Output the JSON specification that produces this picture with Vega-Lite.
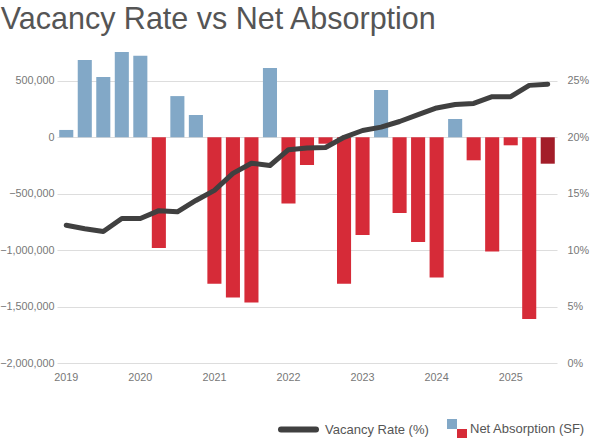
{
  "$schema": "https://vega.github.io/schema/vega-lite/v6.json",
  "width": 500,
  "height": 316,
  "autosize": {"type": "none"},
  "padding": {"left": 57, "top": 47, "right": 38, "bottom": 75},
  "title": {
    "text": "Vacancy Rate vs Net Absorption",
    "anchor": "start",
    "frame": "bounds",
    "font": "Liberation Sans",
    "fontSize": 30.5,
    "fontWeight": "normal",
    "color": "#555555",
    "offset": 12,
    "dx": 1
  },
  "config": {
    "view": {"stroke": null},
    "font": "Liberation Sans",
    "axis": {
      "labelFont": "Liberation Sans",
      "labelFontSize": 10.8,
      "labelColor": "#777777",
      "ticks": false,
      "domain": false,
      "title": null
    },
    "legend": {
      "labelFont": "Liberation Sans",
      "labelFontSize": 13,
      "labelColor": "#555555",
      "padding": 0,
      "title": null
    }
  },
  "data": {
    "values": [
      {"q": "2019-Q1", "absorption": 65000, "vacancy": 12.2},
      {"q": "2019-Q2", "absorption": 684000, "vacancy": 11.9},
      {"q": "2019-Q3", "absorption": 534000, "vacancy": 11.65},
      {"q": "2019-Q4", "absorption": 755000, "vacancy": 12.8},
      {"q": "2020-Q1", "absorption": 722000, "vacancy": 12.8},
      {"q": "2020-Q2", "absorption": -982000, "vacancy": 13.5},
      {"q": "2020-Q3", "absorption": 365000, "vacancy": 13.4},
      {"q": "2020-Q4", "absorption": 197000, "vacancy": 14.4},
      {"q": "2021-Q1", "absorption": -1298000, "vacancy": 15.3},
      {"q": "2021-Q2", "absorption": -1419000, "vacancy": 16.8},
      {"q": "2021-Q3", "absorption": -1464000, "vacancy": 17.7},
      {"q": "2021-Q4", "absorption": 613000, "vacancy": 17.5},
      {"q": "2022-Q1", "absorption": -587000, "vacancy": 18.9},
      {"q": "2022-Q2", "absorption": -245000, "vacancy": 19.05},
      {"q": "2022-Q3", "absorption": -57000, "vacancy": 19.1},
      {"q": "2022-Q4", "absorption": -1298000, "vacancy": 20.0},
      {"q": "2023-Q1", "absorption": -865000, "vacancy": 20.6},
      {"q": "2023-Q2", "absorption": 419000, "vacancy": 20.9},
      {"q": "2023-Q3", "absorption": -670000, "vacancy": 21.4},
      {"q": "2023-Q4", "absorption": -927000, "vacancy": 22.0},
      {"q": "2024-Q1", "absorption": -1242000, "vacancy": 22.6},
      {"q": "2024-Q2", "absorption": 162000, "vacancy": 22.9},
      {"q": "2024-Q3", "absorption": -204000, "vacancy": 23.0},
      {"q": "2024-Q4", "absorption": -1012000, "vacancy": 23.6},
      {"q": "2025-Q1", "absorption": -71000, "vacancy": 23.6},
      {"q": "2025-Q2", "absorption": -1611000, "vacancy": 24.6},
      {"q": "2025-Q3", "absorption": -234000, "vacancy": 24.7}
    ]
  },
  "transform": [
    {"calculate": "datum.q == '2025-Q3' ? 'latest' : datum.absorption < 0 ? 'neg' : 'pos'", "as": "kind"},
    {"calculate": "'Vacancy Rate (%)'", "as": "series"}
  ],
  "encoding": {
    "x": {
      "field": "q",
      "type": "ordinal",
      "sort": null,
      "scale": {"paddingInner": 0.24, "paddingOuter": 0.12},
      "axis": {
        "labelAngle": 0,
        "labelPadding": 8,
        "labelExpr": "slice(datum.value, 5) == 'Q1' ? slice(datum.value, 0, 4) : ''"
      }
    }
  },
  "layer": [
    {
      "mark": {"type": "bar"},
      "encoding": {
        "y": {
          "field": "absorption",
          "type": "quantitative",
          "scale": {"domain": [-2000000, 800000], "nice": false, "zero": false},
          "axis": {
            "values": [-2000000, -1500000, -1000000, -500000, 0, 500000],
            "format": ",d",
            "labelPadding": 3,
            "grid": true,
            "gridColor": "#dddddd"
          }
        },
        "fill": {
          "field": "kind",
          "type": "nominal",
          "scale": {"domain": ["pos", "neg", "latest"], "range": ["#82a8c7", "#d62b38", "#a31d29"]},
          "legend": {
            "values": ["pos"],
            "orient": "none",
            "legendX": 390,
            "legendY": 372,
            "symbolType": "M-1,-1H0V0H-1Z",
            "symbolSize": 400,
            "symbolStrokeWidth": 0,
            "symbolOpacity": 1,
            "labelExpr": "'Net Absorption (SF)'",
            "labelOffset": 3
          }
        },
        "opacity": {
          "field": "absorption",
          "type": "quantitative",
          "scale": {"range": [1, 1]},
          "legend": {
            "values": [0],
            "orient": "none",
            "legendX": 390,
            "legendY": 372,
            "symbolType": "M0,0H1V1H0Z",
            "symbolSize": 400,
            "symbolStrokeWidth": 0,
            "symbolFillColor": "#d62b38",
            "labelExpr": "''",
            "encode": {"symbols": {"update": {"fill": {"value": "#d62b38"}, "opacity": {"value": 1}}}}
          }
        }
      }
    },
    {
      "mark": {"type": "line", "strokeWidth": 5, "strokeJoin": "round", "strokeCap": "round"},
      "encoding": {
        "y": {
          "field": "vacancy",
          "type": "quantitative",
          "scale": {"domain": [0, 28], "nice": false},
          "axis": {
            "orient": "right",
            "values": [0, 5, 10, 15, 20, 25],
            "labelExpr": "datum.value + '%'",
            "labelPadding": 10,
            "grid": false
          }
        },
        "stroke": {
          "field": "series",
          "type": "nominal",
          "scale": {"range": ["#404040"]},
          "legend": {
            "orient": "none",
            "legendX": 221,
            "legendY": 362,
            "symbolType": "stroke",
            "symbolSize": 1225,
            "symbolStrokeWidth": 6,
            "labelOffset": 6,
            "encode": {"symbols": {"update": {"strokeCap": {"value": "round"}}}}
          }
        }
      }
    }
  ],
  "resolve": {"scale": {"y": "independent"}}
}
